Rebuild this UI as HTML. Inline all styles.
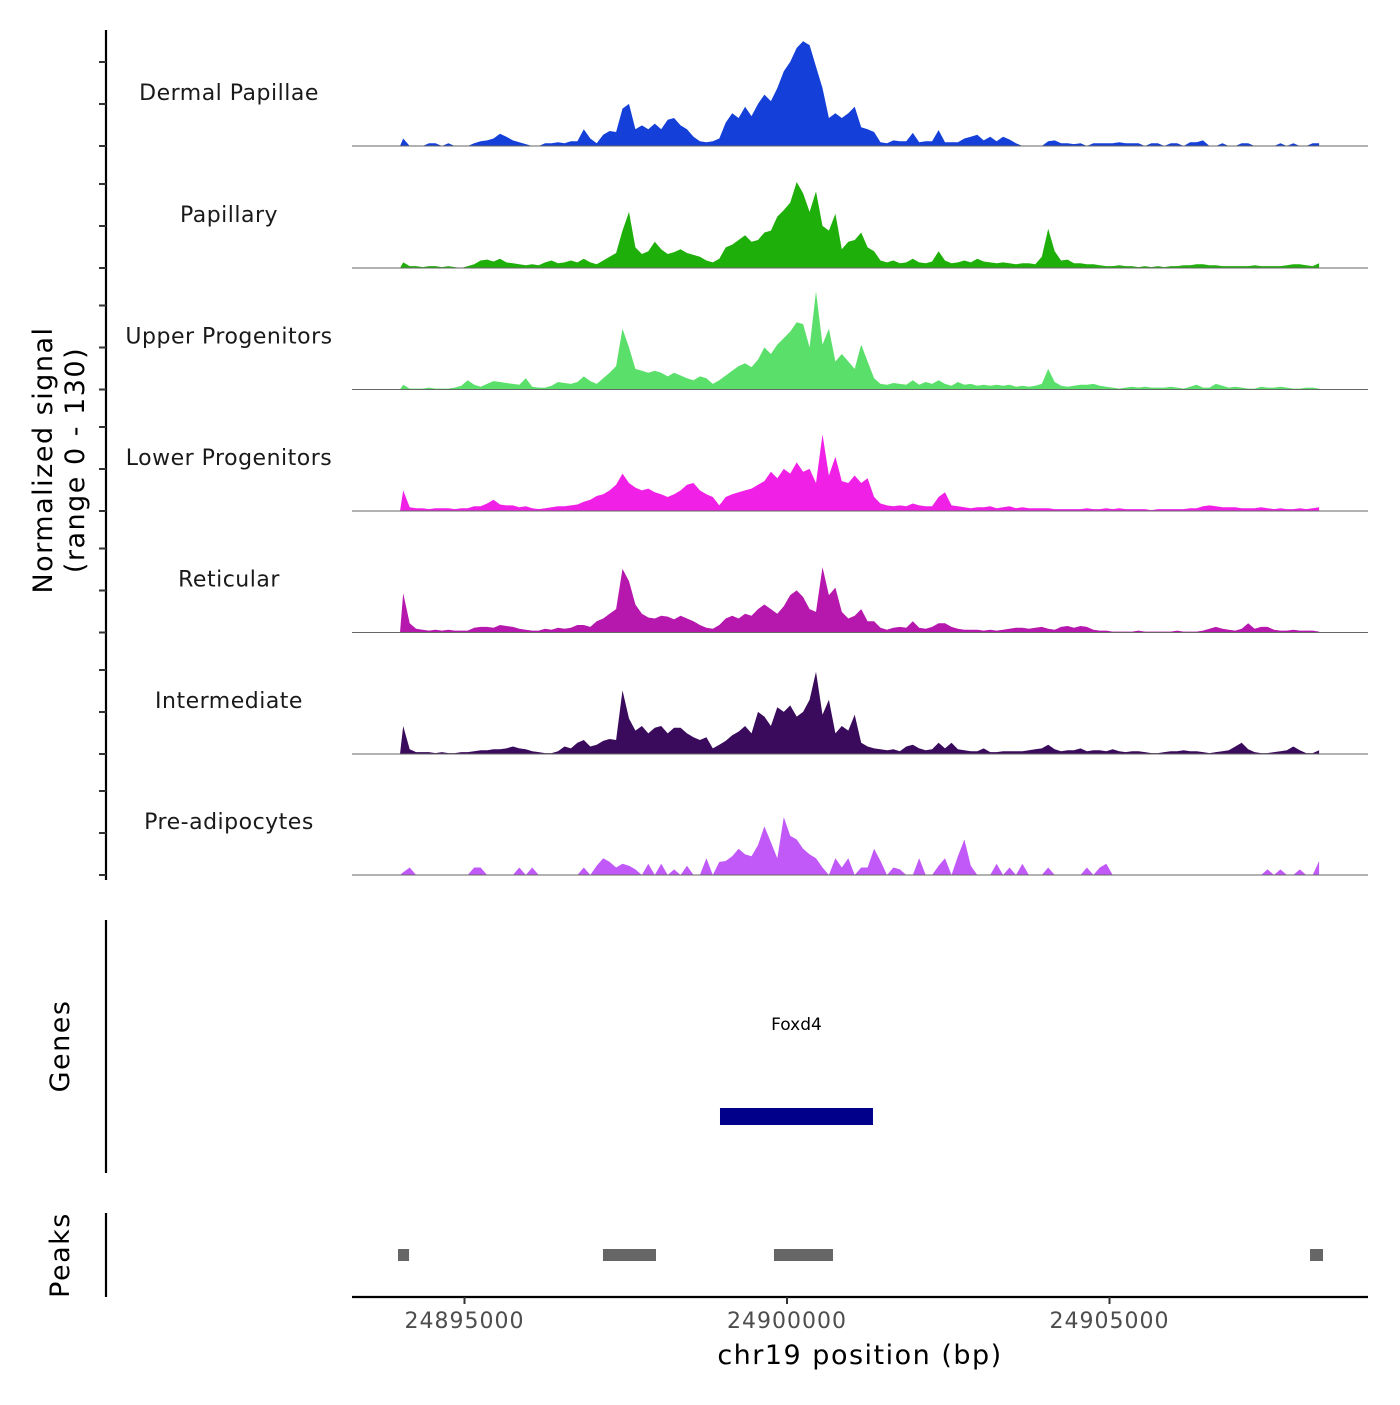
<!DOCTYPE html>
<html><head><meta charset="utf-8"><style>
body{margin:0;background:#fff;}
svg text{font-family:"DejaVu Sans","Liberation Sans",sans-serif;}
</style></head><body>
<svg id="chart" width="1400" height="1400" viewBox="0 0 1400 1400" xmlns="http://www.w3.org/2000/svg">
<rect width="1400" height="1400" fill="#fff"/>
<g id="tracks"></g>
<g id="axes"></g>
</svg>
<script>
const trackNames = ["Dermal Papillae","Papillary","Upper Progenitors","Lower Progenitors","Reticular","Intermediate","Pre-adipocytes"];
const trackColors = ["#1440d9","#1faf0a","#5adf6a","#f020e6","#b617ad","#3a0a5c","#c158f8"];
const binStart = 24894000;
const binSize = 100;
const dermal = [8,0,0,0,3,3,0,3,0,0,0,3,5,6,8,13,10,6,4,2,0,0,3,3,4,3,5,5,18,8,3,12,16,15,40,45,18,22,18,24,18,28,30,22,18,10,5,4,5,8,25,35,30,42,32,45,55,48,62,80,90,105,112,108,85,62,30,35,30,35,42,20,18,15,4,3,6,5,5,14,4,5,5,17,4,4,4,8,10,12,6,10,5,10,7,3,0,0,0,0,5,6,3,3,2,3,0,3,3,3,3,4,3,3,3,0,3,3,0,3,3,0,4,4,6,0,0,3,0,0,3,3,0,0,0,0,3,0,3,0,0,3,3];
const papillary = [6,2,2,1,2,2,1,2,1,0,2,4,8,9,7,10,6,5,4,3,4,3,6,8,5,6,8,6,10,6,4,8,12,16,40,60,22,15,18,28,20,15,17,20,16,14,12,8,6,10,22,25,30,35,28,30,38,40,55,62,70,92,80,60,82,45,40,58,20,28,30,38,22,18,8,6,8,5,6,10,6,5,7,18,8,5,6,8,6,10,7,6,5,6,5,4,5,5,4,12,42,18,8,9,5,5,4,4,3,2,2,3,2,2,1,2,1,2,1,2,2,3,3,4,4,3,3,2,2,2,2,2,3,2,2,2,2,3,4,4,3,2,5];
const upper = [5,1,1,1,2,1,1,1,2,4,10,5,3,6,9,8,7,6,5,12,3,2,2,4,8,7,6,8,14,9,6,12,18,25,65,45,22,20,18,20,18,14,18,15,12,10,14,12,6,10,15,20,25,28,24,32,45,38,48,55,62,72,70,45,105,48,65,30,38,30,22,48,30,12,6,5,7,6,5,10,5,8,6,10,6,4,8,5,6,4,5,4,5,4,5,3,4,3,4,6,22,8,4,3,4,5,5,6,4,3,2,1,2,3,2,3,2,2,2,3,2,1,3,5,2,2,6,4,2,3,2,1,1,3,2,2,3,2,1,1,2,2,1];
const lower = [22,4,3,3,2,3,3,3,2,3,3,5,5,8,12,7,6,6,4,5,3,2,3,4,5,5,6,7,10,12,16,18,22,28,40,30,25,22,24,20,18,15,18,22,28,30,22,18,15,6,15,18,20,22,24,28,32,42,35,45,40,52,42,45,30,82,38,58,32,30,38,30,35,15,8,6,5,6,5,8,6,5,5,15,20,6,5,4,3,4,4,5,3,4,5,3,4,3,3,3,3,2,2,2,2,2,3,2,2,3,2,3,2,2,2,2,1,2,2,2,2,2,3,3,5,6,5,4,4,4,3,3,3,4,3,2,3,2,2,3,2,3,4];
const reticular = [42,10,4,3,2,3,2,3,2,2,2,5,6,6,5,8,7,6,4,3,2,2,4,3,5,4,5,8,8,6,12,15,20,25,68,55,30,20,16,15,18,17,14,18,15,12,8,5,4,8,15,18,15,20,18,25,30,25,20,28,40,45,38,25,22,70,40,48,22,15,18,25,12,12,5,3,5,6,5,12,5,4,6,10,10,6,4,3,3,3,2,3,2,3,4,5,5,4,5,6,4,3,6,7,5,7,6,3,2,2,1,1,1,1,2,1,1,1,1,1,2,1,1,1,2,4,6,4,3,2,4,10,4,6,6,3,2,2,3,2,2,2,1];
const intermediate = [30,5,2,2,2,1,2,1,1,2,2,3,4,4,5,5,6,8,6,5,3,2,1,1,3,8,6,12,15,8,10,14,16,15,68,38,25,30,22,28,30,22,28,28,22,18,15,18,6,10,14,20,24,30,22,45,40,30,50,45,52,40,45,58,88,42,58,22,30,25,42,12,8,6,5,4,5,3,8,10,6,4,5,12,6,12,5,4,3,3,6,2,2,3,3,3,3,4,5,6,10,5,3,4,4,6,3,4,4,3,5,3,2,3,3,2,1,1,2,3,3,4,3,3,2,1,2,3,4,8,12,5,2,1,1,2,3,4,8,4,1,1,4];
const preadipocytes = [3,8,0,0,0,0,0,0,0,0,0,8,8,0,0,0,0,0,8,0,8,0,0,0,0,0,0,0,8,0,10,18,14,8,12,10,6,0,12,0,12,0,6,0,10,0,0,18,0,14,15,20,28,22,20,32,52,35,18,62,42,38,28,22,18,8,0,18,8,18,0,8,8,28,15,0,8,6,0,0,18,0,0,10,18,0,20,38,10,0,0,0,12,0,8,0,12,0,0,0,8,0,0,0,0,0,8,0,8,12,0,0,0,0,0,0,0,0,0,0,0,0,0,0,0,0,0,0,0,0,0,0,0,0,6,0,6,0,0,6,0,0,15];
const trackData = [dermal,papillary,upper,lower,reticular,intermediate,preadipocytes];
const xTicks = [24895000,24900000,24905000];
const peakStarts = [24893969,24897147,24899798,24908109];
const peakEnds = [24894140,24897969,24900713,24908310];
const geneName = "Foxd4";
const geneStart = 24898961;
const geneEnd = 24901333;

const NS="http://www.w3.org/2000/svg";
const xScale = bp => 787 + (bp - 24900000) * 0.0645;
const baseY = [146,268,389.5,511,632.5,754,875];
const trackH = 121.5, yMax = 130;
const yScale = (t, v) => baseY[t] - v / yMax * trackH;
function mk(tag, attrs, parent){const e=document.createElementNS(NS,tag);for(const k in attrs)e.setAttribute(k,attrs[k]);parent.appendChild(e);return e;}
const tracks=document.getElementById('tracks');
const axes=document.getElementById('axes');

trackData.forEach((arr,t)=>{
  const g=mk('g',{},tracks);
  
  
  let pts=[[xScale(binStart), baseY[t]]];
  arr.forEach((v,i)=>{pts.push([xScale(binStart+(i+0.5)*binSize), yScale(t,v)]);});
  pts.push([xScale(binStart+arr.length*binSize-binSize/2), baseY[t]]);
  const p=mk('polygon',{points:pts.map(p=>p[0].toFixed(1)+','+p[1].toFixed(1)).join(' '),fill:trackColors[t]},g);
  
  
  const bl=mk('line',{x1:352,x2:1368,y1:baseY[t],y2:baseY[t],stroke:'#666','stroke-width':1},g);
  
  
  const lb=mk('text',{x:229,y:baseY[t]-46,'text-anchor':'middle','font-size':22,fill:'#1a1a1a','letter-spacing':'0.5'},g);
  lb.textContent=trackNames[t];
  
  
});

const ya=mk('line',{x1:106,x2:106,y1:30,y2:880,stroke:'#000','stroke-width':2.2},axes);


baseY.forEach((b,t)=>{
  [0,42,84].forEach(d=>{
    const tk=mk('line',{x1:99,x2:106,y1:b-d,y2:b-d,stroke:'#333','stroke-width':2},axes);
    
    
  });
});
const yt=mk('text',{transform:'translate(52,460) rotate(-90)','text-anchor':'middle','font-size':27,fill:'#000','letter-spacing':'1.5'},axes);
yt.textContent='Normalized signal';


const yt2=mk('text',{transform:'translate(84,460) rotate(-90)','text-anchor':'middle','font-size':27,fill:'#000','letter-spacing':'1.5'},axes);
yt2.textContent='(range 0 - 130)';



const ga=mk('line',{x1:106,x2:106,y1:920,y2:1173,stroke:'#000','stroke-width':2.2},axes);


const gt=mk('text',{transform:'translate(69,1046) rotate(-90)','text-anchor':'middle','font-size':27,fill:'#000','letter-spacing':'1.5'},axes);
gt.textContent='Genes';


const gr=mk('rect',{x:xScale(geneStart),y:1108,width:xScale(geneEnd)-xScale(geneStart),height:17,fill:'#00008b'},axes);


const gl=mk('text',{x:(xScale(geneStart)+xScale(geneEnd))/2,y:1030,'text-anchor':'middle','font-size':17,fill:'#000'},axes);
gl.textContent=geneName;



const pa=mk('line',{x1:106,x2:106,y1:1213,y2:1297,stroke:'#000','stroke-width':2.2},axes);


const pt=mk('text',{transform:'translate(69,1255) rotate(-90)','text-anchor':'middle','font-size':27,fill:'#000','letter-spacing':'1.5'},axes);
pt.textContent='Peaks';


peakStarts.forEach((s,i)=>{
  const r=mk('rect',{x:xScale(s),y:1249,width:xScale(peakEnds[i])-xScale(s),height:12,fill:'#666'},axes);
  
  
});

const xa=mk('line',{x1:352,x2:1368,y1:1297,y2:1297,stroke:'#000','stroke-width':2.2},axes);


xTicks.forEach(v=>{
  const x=xScale(v);
  const tk=mk('line',{x1:x,x2:x,y1:1297,y2:1304,stroke:'#333','stroke-width':2},axes);
  
  
  const tl=mk('text',{x:x,y:1328,'text-anchor':'middle','font-size':22,fill:'#4d4d4d','letter-spacing':'1'},axes);
  tl.textContent=String(v);
  
  
});
const xt=mk('text',{x:860,y:1364,'text-anchor':'middle','font-size':27,fill:'#000','letter-spacing':'1.5'},axes);
xt.textContent='chr19 position (bp)';


</script>
</body></html>
